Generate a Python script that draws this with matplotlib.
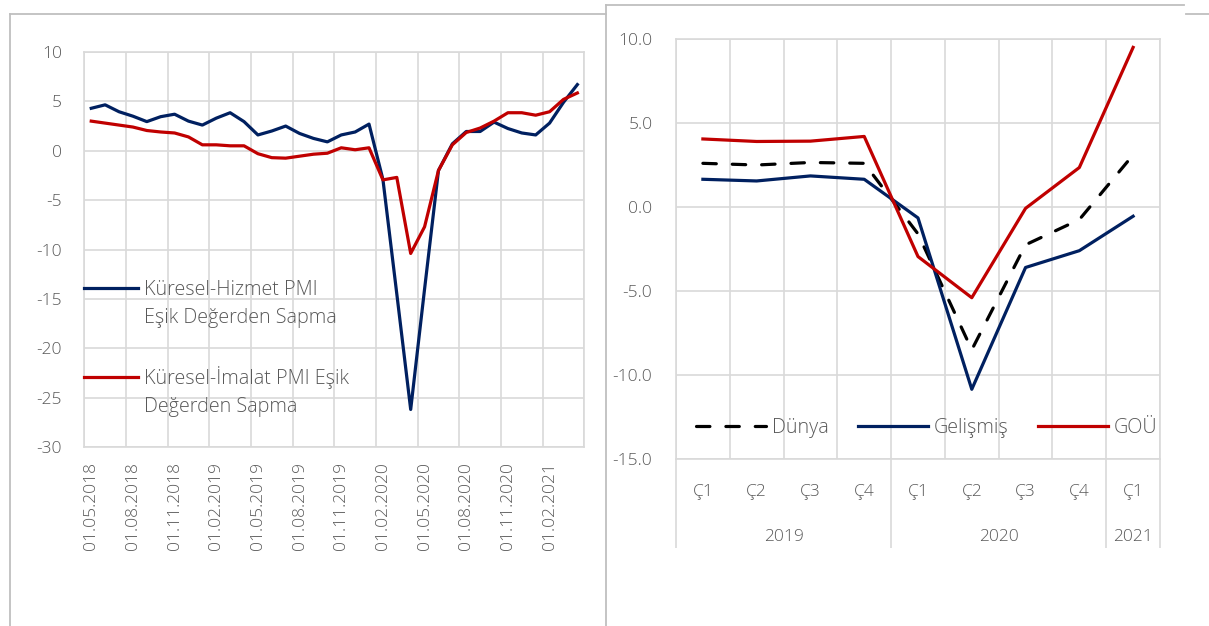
import numpy as np
import matplotlib
matplotlib.use("Agg")
import matplotlib.pyplot as plt
from matplotlib.lines import Line2D
from matplotlib.transforms import blended_transform_factory

plt.rcParams['font.family'] = ['Open Sans', 'DejaVu Sans']
plt.rcParams['font.weight'] = 'light'
plt.rcParams['axes.unicode_minus'] = False

# ─── DATA ───────────────────────────────────────────────────────────────────
# left: monthly PMI deviation from 50, May 2018 - Apr 2021
hizmet = [4.3, 4.65, 3.95, 3.5, 2.95, 3.45, 3.7, 3.0, 2.6, 3.3, 3.85, 2.95,
          1.6, 2.0, 2.5, 1.75, 1.25, 0.9, 1.6, 1.9, 2.7, -2.9, -14.5, -26.2,
          -14.0, -2.0, 0.7, 1.95, 1.95, 2.9, 2.25, 1.8, 1.6, 2.8, 4.9, 6.7]
imalat = [3.0, 2.8, 2.6, 2.4, 2.05, 1.9, 1.8, 1.4, 0.6, 0.6, 0.5, 0.5,
          -0.3, -0.7, -0.75, -0.55, -0.35, -0.25, 0.3, 0.1, 0.3, -2.95, -2.7, -10.4,
          -7.7, -2.0, 0.6, 1.85, 2.3, 3.0, 3.85, 3.85, 3.6, 3.95, 5.2, 5.85]
date_labels = ['01.05.2018', '01.08.2018', '01.11.2018', '01.02.2019',
               '01.05.2019', '01.08.2019', '01.11.2019', '01.02.2020',
               '01.05.2020', '01.08.2020', '01.11.2020', '01.02.2021']
left_yticks = [10, 5, 0, -5, -10, -15, -20, -25, -30]
hizmet_label = ['Küresel-Hizmet PMI', 'Eşik Değerden Sapma']
imalat_label = ['Küresel-İmalat PMI Eşik', 'Değerden Sapma']

# right: quarterly growth
quarters = ['Ç1', 'Ç2', 'Ç3', 'Ç4', 'Ç1', 'Ç2', 'Ç3', 'Ç4', 'Ç1']
years = ['2019', '2020', '2021']
year_span = [(0, 3), (4, 7), (8, 8)]
dunya = [2.6, 2.5, 2.65, 2.6, -1.6, -8.5, -2.25, -0.75, 3.1]
gelismis = [1.65, 1.55, 1.85, 1.65, -0.65, -10.85, -3.6, -2.6, -0.55]
gou = [4.05, 3.9, 3.92, 4.2, -2.95, -5.4, -0.08, 2.35, 9.5]
right_yticks = [10.0, 5.0, 0.0, -5.0, -10.0, -15.0]

NAVY = '#002060'
RED = '#C00000'
GRID = '#D9D9D9'
TXT = '#595959'
FS = 12.5
LFS = 14.2

fig = plt.figure(figsize=(12.09, 6.26), dpi=100)
fig.patch.set_facecolor('white')

# ─── LEFT CHART ─────────────────────────────────────────────────────────────
ax = fig.add_axes([84.3/1209, 179/626, 500/1209, 395/626])
x = np.arange(len(hizmet))
l1, = ax.plot(x, hizmet, color=NAVY, lw=2.3, zorder=3)
l2, = ax.plot(x, imalat, color=RED, lw=2.3, zorder=3)
ax.set_xlim(-0.5, len(hizmet) - 0.5)
ax.set_ylim(-30, 10)
for v in left_yticks:
    ax.axhline(v, color=GRID, lw=1.2, zorder=1)
for v in np.arange(-0.5, len(hizmet), 3):
    ax.axvline(v, color=GRID, lw=1.2, zorder=1)
ax.set_yticks(left_yticks)
ax.set_yticklabels([str(v) for v in left_yticks])
ax.set_xticks(x[::3])
ax.set_xticklabels(date_labels, rotation=90, va='top', ha='center')
ax.tick_params(axis='y', length=0, pad=16, labelsize=FS, labelcolor=TXT)
ax.tick_params(axis='x', length=0, pad=11, labelsize=FS, labelcolor=TXT)
for s in ax.spines.values():
    s.set_color(GRID); s.set_linewidth(1.2)

# two-line legend entries, sample aligned with first line
blank = Line2D([], [], color='none')
legs = []
for line, lab, yc in [(l1, hizmet_label, 0.362), (l2, imalat_label, 0.1405)]:
    lg = ax.legend([line, blank], lab, loc='center left', bbox_to_anchor=(0, yc),
                   frameon=False, fontsize=LFS, handlelength=2.74, handletextpad=0.28,
                   labelspacing=0.45, borderpad=0, borderaxespad=0)
    for t in lg.get_texts():
        t.set_color(TXT)
    legs.append(lg)
ax.add_artist(legs[0])

# ─── RIGHT CHART ────────────────────────────────────────────────────────────
ax2 = fig.add_axes([676/1209, 167/626, 484/1209, 420/626])
q = np.arange(len(quarters))
ax2.plot(q, dunya, color='black', lw=2.3, dashes=(4.2, 5), dash_capstyle='round',
         label='Dünya', zorder=3)
ax2.plot(q, gelismis, color=NAVY, lw=2.3, label='Gelişmiş', zorder=3)
ax2.plot(q, gou, color=RED, lw=2.3, label='GOÜ', zorder=3)
ax2.set_xlim(-0.5, len(quarters) - 0.5)
ax2.set_ylim(-15, 10)
for v in right_yticks:
    ax2.axhline(v, color=GRID, lw=1.2, zorder=1)
for v in np.arange(-0.5, len(quarters), 1):
    ax2.axvline(v, color=GRID, lw=1.2, zorder=1)
ax2.set_yticks(right_yticks)
ax2.set_yticklabels([f'{v:.1f}' for v in right_yticks])
ax2.set_xticks(q)
ax2.set_xticklabels(quarters)
ax2.tick_params(axis='y', length=0, pad=17, labelsize=FS, labelcolor=TXT)
ax2.tick_params(axis='x', which='major', length=0, pad=18, labelsize=FS, labelcolor=TXT)
# group separators below the axis
seps = [year_span[0][0] - 0.5] + [e + 0.5 for s, e in year_span]
ax2.set_xticks(seps, minor=True)
ax2.tick_params(axis='x', which='minor', length=64, width=1.2, color=GRID, direction='out')
trans = blended_transform_factory(ax2.transData, ax2.transAxes)
for yr, (s, e) in zip(years, year_span):
    ax2.text((s + e) / 2, -0.185, yr, transform=trans, ha='center', va='center',
             fontsize=FS, color=TXT)
for s in ax2.spines.values():
    s.set_color(GRID); s.set_linewidth(1.2)
leg2 = ax2.legend(loc='center left', bbox_to_anchor=(0.041, 0.074), ncol=3, frameon=False,
                  fontsize=LFS, handlelength=3.55, handletextpad=0.33, columnspacing=1.45,
                  borderpad=0, borderaxespad=0)
for t in leg2.get_texts():
    t.set_color(TXT)

# ─── FRAME LINES ────────────────────────────────────────────────────────────
W, H = 1209, 626
def fline(x0, y0, x1, y1):
    fig.add_artist(Line2D([x0 / W, x1 / W], [1 - y0 / H, 1 - y1 / H],
                          color='#BFBFBF', lw=1.3, transform=fig.transFigure))
fline(10, 14, 10, 626)
fline(10, 14, 606, 14)
fline(606, 5, 606, 626)
fline(606, 5, 1184, 5)
fline(1186, 14, 1209, 14)

plt.savefig('out.png', dpi=100, facecolor='white')
